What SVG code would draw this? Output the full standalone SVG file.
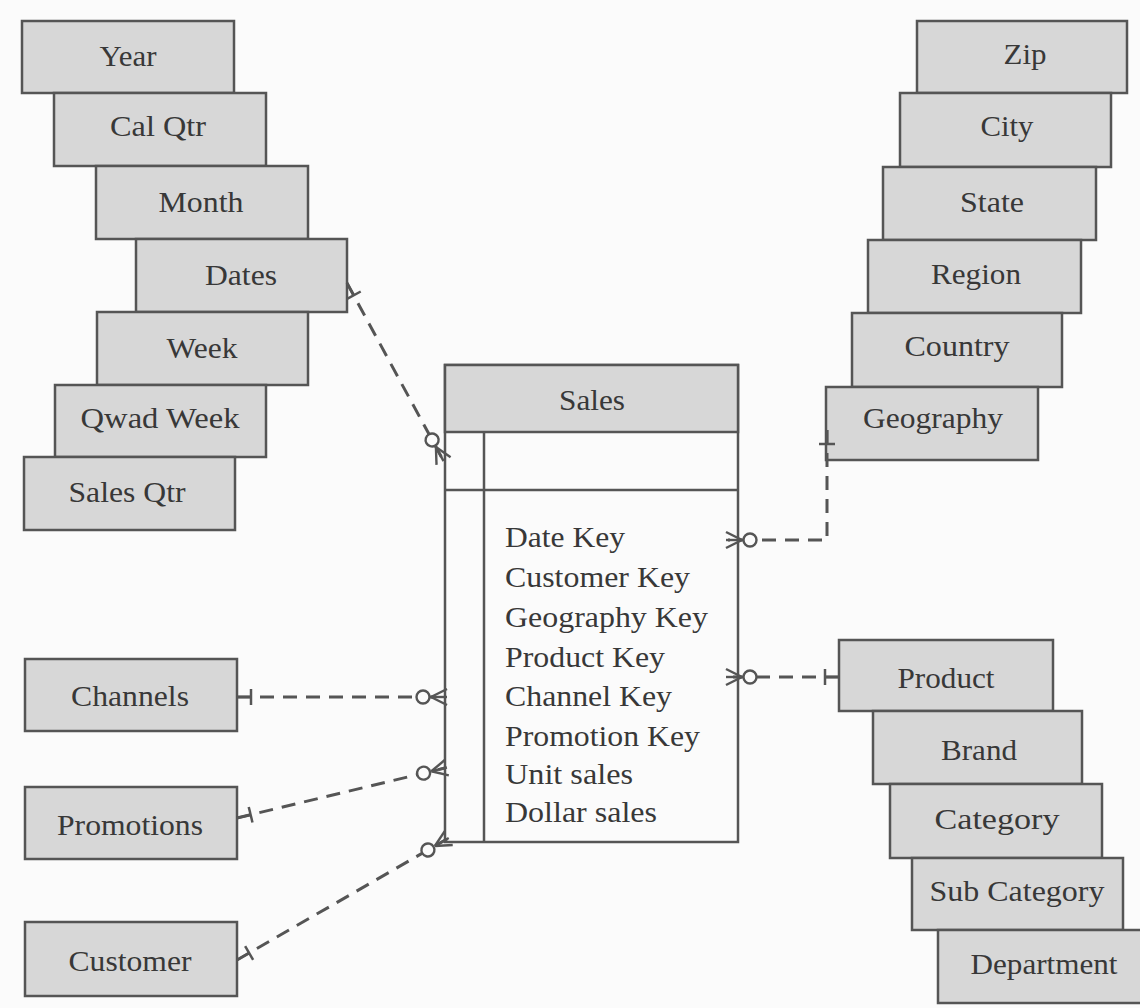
<svg xmlns="http://www.w3.org/2000/svg" width="1140" height="1008" viewBox="0 0 1140 1008">
  <style>
    .box { fill: #d7d7d7; stroke: #555; stroke-width: 2.5; }
    .tbl { fill: #fbfbfb; stroke: #555; stroke-width: 2.5; }
    .rule { stroke: #555; stroke-width: 2.5; fill: none; }
    .lbl { font-family: "Liberation Serif", "Times New Roman", serif; font-size: 29px; fill: #383838; text-anchor: middle; }
    .item { font-family: "Liberation Serif", "Times New Roman", serif; font-size: 29px; fill: #383838; }
    .rel { fill: none; stroke: #555; stroke-width: 3; stroke-dasharray: 14 9; }
  </style>
  <defs>
    <!-- "one" end: perpendicular bar near the dimension box -->
    <marker id="one" markerUnits="userSpaceOnUse" orient="auto" refX="0" refY="0" markerWidth="40" markerHeight="40" viewBox="-20 -20 40 40" overflow="visible">
      <line x1="0" y1="0" x2="14" y2="0" stroke="#555" stroke-width="2.5"/>
      <line x1="14" y1="-8" x2="14" y2="8" stroke="#555" stroke-width="2.5"/>
    </marker>
    <!-- "zero or many" end: circle plus crow's foot at the fact table -->
    <marker id="many" markerUnits="userSpaceOnUse" orient="auto" refX="0" refY="0" markerWidth="60" markerHeight="40" viewBox="-40 -20 60 40" overflow="visible">
      <line x1="-14" y1="0" x2="2" y2="-8" stroke="#555" stroke-width="2.4"/>
      <line x1="-14" y1="0" x2="2" y2="0" stroke="#555" stroke-width="2.4"/>
      <line x1="-14" y1="0" x2="2" y2="8" stroke="#555" stroke-width="2.4"/>
      <circle cx="-22" cy="0" r="6.5" fill="#fbfbfb" stroke="#555" stroke-width="2.4"/>
    </marker>
  </defs>

  <rect x="0" y="0" width="1140" height="1008" fill="#fbfbfb"/>

  <!-- Time hierarchy -->
  <g id="year"><rect class="box" x="22" y="21" width="212" height="72"/><text class="lbl" x="128" y="66" textLength="57" lengthAdjust="spacingAndGlyphs">Year</text></g>
  <g id="cal-qtr"><rect class="box" x="54" y="93" width="212" height="73"/><text class="lbl" x="158" y="136" textLength="96" lengthAdjust="spacingAndGlyphs">Cal Qtr</text></g>
  <g id="month"><rect class="box" x="96" y="166" width="212" height="73"/><text class="lbl" x="201" y="212" textLength="85" lengthAdjust="spacingAndGlyphs">Month</text></g>
  <g id="dates"><rect class="box" x="136" y="239" width="211" height="73"/><text class="lbl" x="241" y="285" textLength="72" lengthAdjust="spacingAndGlyphs">Dates</text></g>
  <g id="week"><rect class="box" x="97" y="312" width="211" height="73"/><text class="lbl" x="202" y="358" textLength="71" lengthAdjust="spacingAndGlyphs">Week</text></g>
  <g id="qwad-week"><rect class="box" x="55" y="385" width="211" height="72"/><text class="lbl" x="160" y="428" textLength="159" lengthAdjust="spacingAndGlyphs">Qwad Week</text></g>
  <g id="sales-qtr"><rect class="box" x="24" y="457" width="211" height="73"/><text class="lbl" x="127" y="502" textLength="117" lengthAdjust="spacingAndGlyphs">Sales Qtr</text></g>

  <!-- Geography hierarchy -->
  <g id="zip"><rect class="box" x="917" y="21" width="210" height="72"/><text class="lbl" x="1025" y="64" textLength="43" lengthAdjust="spacingAndGlyphs">Zip</text></g>
  <g id="city"><rect class="box" x="900" y="93" width="211" height="74"/><text class="lbl" x="1007" y="136" textLength="53" lengthAdjust="spacingAndGlyphs">City</text></g>
  <g id="state"><rect class="box" x="883" y="167" width="213" height="73"/><text class="lbl" x="992" y="212" textLength="64" lengthAdjust="spacingAndGlyphs">State</text></g>
  <g id="region"><rect class="box" x="868" y="240" width="213" height="73"/><text class="lbl" x="976" y="284" textLength="90" lengthAdjust="spacingAndGlyphs">Region</text></g>
  <g id="country"><rect class="box" x="852" y="313" width="210" height="74"/><text class="lbl" x="957" y="356" textLength="105" lengthAdjust="spacingAndGlyphs">Country</text></g>
  <g id="geography"><rect class="box" x="826" y="387" width="212" height="73"/><text class="lbl" x="933" y="428" textLength="140" lengthAdjust="spacingAndGlyphs">Geography</text></g>

  <!-- Product hierarchy -->
  <g id="product"><rect class="box" x="839" y="640" width="214" height="71"/><text class="lbl" x="946" y="688" textLength="97" lengthAdjust="spacingAndGlyphs">Product</text></g>
  <g id="brand"><rect class="box" x="873" y="711" width="209" height="73"/><text class="lbl" x="979" y="760" textLength="76" lengthAdjust="spacingAndGlyphs">Brand</text></g>
  <g id="category"><rect class="box" x="890" y="784" width="212" height="74"/><text class="lbl" x="997" y="829" textLength="125" lengthAdjust="spacingAndGlyphs">Category</text></g>
  <g id="sub-category"><rect class="box" x="912" y="858" width="211" height="72"/><text class="lbl" x="1017" y="901" textLength="175" lengthAdjust="spacingAndGlyphs">Sub Category</text></g>
  <g id="department"><rect class="box" x="938" y="930" width="212" height="73"/><text class="lbl" x="1044" y="974" textLength="147" lengthAdjust="spacingAndGlyphs">Department</text></g>

  <!-- Single-level dimensions -->
  <g id="channels"><rect class="box" x="25" y="659" width="212" height="72"/><text class="lbl" x="130" y="706" textLength="118" lengthAdjust="spacingAndGlyphs">Channels</text></g>
  <g id="promotions"><rect class="box" x="25" y="787" width="212" height="72"/><text class="lbl" x="130" y="835" textLength="146" lengthAdjust="spacingAndGlyphs">Promotions</text></g>
  <g id="customer"><rect class="box" x="25" y="922" width="212" height="74"/><text class="lbl" x="130" y="971" textLength="123" lengthAdjust="spacingAndGlyphs">Customer</text></g>

  <!-- Fact table -->
  <g id="sales">
    <rect class="tbl" x="445" y="365" width="293" height="477"/>
    <rect class="box" x="445" y="365" width="293" height="67"/>
    <text class="lbl" x="592" y="410" textLength="66" lengthAdjust="spacingAndGlyphs">Sales</text>
    <line class="rule" x1="445" y1="490" x2="738" y2="490"/>
    <line class="rule" x1="484" y1="432" x2="484" y2="842"/>
    <text class="item" x="505" y="547" textLength="120" lengthAdjust="spacingAndGlyphs">Date Key</text>
    <text class="item" x="505" y="587" textLength="185" lengthAdjust="spacingAndGlyphs">Customer Key</text>
    <text class="item" x="505" y="627" textLength="203" lengthAdjust="spacingAndGlyphs">Geography Key</text>
    <text class="item" x="505" y="667" textLength="160" lengthAdjust="spacingAndGlyphs">Product Key</text>
    <text class="item" x="505" y="706" textLength="167" lengthAdjust="spacingAndGlyphs">Channel Key</text>
    <text class="item" x="505" y="746" textLength="195" lengthAdjust="spacingAndGlyphs">Promotion Key</text>
    <text class="item" x="505" y="784" textLength="128" lengthAdjust="spacingAndGlyphs">Unit sales</text>
    <text class="item" x="505" y="822" textLength="152" lengthAdjust="spacingAndGlyphs">Dollar sales</text>
  </g>

  <!-- Relationships: dimension (one) to fact (zero or many) -->
  <g id="connectors">
    <path class="rel" d="M347,283 L442.6,459.3" marker-start="url(#one)" marker-end="url(#many)"/>
    <path class="rel" d="M827,430 V540 H728" marker-start="url(#one)" marker-end="url(#many)"/>
    <path class="rel" d="M839,677 H728" marker-start="url(#one)" marker-end="url(#many)"/>
    <path class="rel" d="M237,697 H445" marker-start="url(#one)" marker-end="url(#many)"/>
    <path class="rel" d="M237,818 L445,768" marker-start="url(#one)" marker-end="url(#many)"/>
    <path class="rel" d="M237,960 L447,839" marker-start="url(#one)" marker-end="url(#many)"/>
  </g>
</svg>
